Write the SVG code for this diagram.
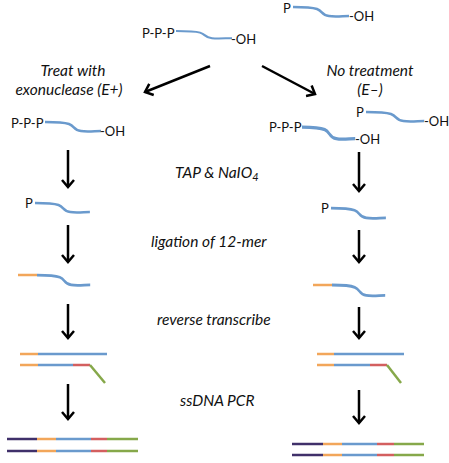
<svg xmlns="http://www.w3.org/2000/svg" xmlns:xlink="http://www.w3.org/1999/xlink" width="449" height="463" viewBox="0 0 449 463">
<style>
.lbl{font-family:Lato,"Liberation Sans",sans-serif;font-style:italic;font-size:15.5px;fill:#111}
.nt{font-family:Lato,"Liberation Sans",sans-serif;font-size:13px;fill:#111}
.bl{fill:none;stroke:#6A9ACD;stroke-width:2.5;stroke-linecap:butt}
.arr{fill:none;stroke:#000;stroke-width:2.5}
.seg{stroke-width:2.5;fill:none}
.or{stroke:#F2A65A}.bu{stroke:#6A9ACD}.rd{stroke:#D35F5F}.gr{stroke:#86A84A}.pu{stroke:#40306A}
</style>
<defs>
<path id="strand" class="bl" d="M0,0 C10,0 18,0 24,2 C30,4 28,8 36,9 C42,10 50,9 56,9"/>
<marker id="ah" markerUnits="userSpaceOnUse" markerWidth="16" markerHeight="16" viewBox="-8 -8 16 16" refX="0" refY="0" orient="auto">
<path d="M-7,-6 L0,0 L-7,6" fill="none" stroke="#000" stroke-width="2.5"/>
</marker>
</defs>

<g id="top-ppp">
<text class="nt" x="142" y="38">P-P-P</text>
<use xlink:href="#strand" transform="translate(176,31) scale(1,0.8)"/>
<text class="nt" x="231" y="44">-OH</text>
</g>
<g id="top-p">
<text class="nt" x="283" y="13">P</text>
<use xlink:href="#strand" transform="translate(293,7)"/>
<text class="nt" x="349" y="21">-OH</text>
</g>

<g id="label-e-plus">
<text class="lbl" x="73" y="76" text-anchor="middle">Treat with</text>
<text class="lbl" x="69" y="95" text-anchor="middle">exonuclease (E+)</text>
</g>
<g id="label-e-minus">
<text class="lbl" x="370" y="76" text-anchor="middle">No treatment</text>
<text class="lbl" x="370" y="95" text-anchor="middle">(E–)</text>
</g>

<g id="left-ppp">
<text class="nt" x="11" y="128">P-P-P</text>
<use xlink:href="#strand" transform="translate(45,122)"/>
<text class="nt" x="100" y="136">-OH</text>
</g>
<g id="right-ppp">
<text class="nt" x="269" y="132">P-P-P</text>
<use xlink:href="#strand" transform="translate(302,127) scale(0.95,1.3)"/>
<text class="nt" x="355" y="144">-OH</text>
</g>
<g id="right-p">
<text class="nt" x="356" y="117">P</text>
<use xlink:href="#strand" transform="translate(366,112) scale(1.04,1)"/>
<text class="nt" x="424" y="126">-OH</text>
</g>

<g id="step-tap"><text class="lbl" x="175" y="178">TAP &amp; NaIO<tspan font-size="11" dy="3">4</tspan></text></g>
<g id="step-lig"><text class="lbl" x="151" y="247">ligation of 12-mer</text></g>
<g id="step-rt"><text class="lbl" x="157" y="325">reverse transcribe</text></g>
<g id="step-pcr"><text class="lbl" x="180" y="406">ssDNA PCR</text></g>

<g id="left-p">
<text class="nt" x="25" y="208">P</text>
<use xlink:href="#strand" transform="translate(35,203) scale(0.98,1)"/>
</g>
<g id="right-p2">
<text class="nt" x="321" y="213">P</text>
<use xlink:href="#strand" transform="translate(331,208) scale(0.98,1.1)"/>
</g>

<g id="left-lig">
<line class="seg or" x1="18" y1="275" x2="37" y2="275"/>
<use xlink:href="#strand" transform="translate(37,275) scale(0.95,1.1)"/>
</g>
<g id="right-lig">
<line class="seg or" x1="313" y1="285" x2="332" y2="285"/>
<use xlink:href="#strand" transform="translate(332,285) scale(0.95,1.15)"/>
</g>

<g id="left-rt">
<line class="seg or" x1="20" y1="354" x2="38" y2="354"/>
<line class="seg bu" x1="38" y1="354" x2="107" y2="354"/>
<line class="seg or" x1="20" y1="365" x2="38" y2="365"/>
<line class="seg bu" x1="38" y1="365" x2="73" y2="365"/>
<line class="seg rd" x1="73" y1="365" x2="90" y2="365"/>
<line class="seg gr" x1="90" y1="365" x2="105" y2="383"/>
</g>
<g id="right-rt">
<line class="seg or" x1="317" y1="354" x2="334" y2="354"/>
<line class="seg bu" x1="334" y1="354" x2="404" y2="354"/>
<line class="seg or" x1="317" y1="365" x2="334" y2="365"/>
<line class="seg bu" x1="334" y1="365" x2="370" y2="365"/>
<line class="seg rd" x1="370" y1="365" x2="387" y2="365"/>
<line class="seg gr" x1="387" y1="365" x2="401" y2="383"/>
</g>

<g id="left-pcr">
<line class="seg pu" x1="7" y1="439" x2="37" y2="439"/>
<line class="seg or" x1="37" y1="439" x2="56" y2="439"/>
<line class="seg bu" x1="56" y1="439" x2="91" y2="439"/>
<line class="seg rd" x1="91" y1="439" x2="107" y2="439"/>
<line class="seg gr" x1="107" y1="439" x2="138" y2="439"/>
<line class="seg pu" x1="7" y1="451" x2="37" y2="451"/>
<line class="seg or" x1="37" y1="451" x2="56" y2="451"/>
<line class="seg bu" x1="56" y1="451" x2="91" y2="451"/>
<line class="seg rd" x1="91" y1="451" x2="107" y2="451"/>
<line class="seg gr" x1="107" y1="451" x2="138" y2="451"/>
</g>
<g id="right-pcr">
<line class="seg pu" x1="292" y1="444" x2="323" y2="444"/>
<line class="seg or" x1="323" y1="444" x2="342" y2="444"/>
<line class="seg bu" x1="342" y1="444" x2="377" y2="444"/>
<line class="seg rd" x1="377" y1="444" x2="394" y2="444"/>
<line class="seg gr" x1="394" y1="444" x2="424" y2="444"/>
<line class="seg pu" x1="292" y1="455" x2="323" y2="455"/>
<line class="seg or" x1="323" y1="455" x2="342" y2="455"/>
<line class="seg bu" x1="342" y1="455" x2="377" y2="455"/>
<line class="seg rd" x1="377" y1="455" x2="394" y2="455"/>
<line class="seg gr" x1="394" y1="455" x2="424" y2="455"/>
</g>

<g id="connectors">
<line class="arr" x1="210" y1="66" x2="145" y2="92" marker-end="url(#ah)"/>
<line class="arr" x1="262" y1="66" x2="315" y2="94" marker-end="url(#ah)"/>
<line class="arr" x1="68" y1="150" x2="68" y2="187" marker-end="url(#ah)"/>
<line class="arr" x1="68" y1="225" x2="68" y2="262" marker-end="url(#ah)"/>
<line class="arr" x1="68" y1="304" x2="68" y2="338" marker-end="url(#ah)"/>
<line class="arr" x1="68" y1="384" x2="68" y2="419" marker-end="url(#ah)"/>
<line class="arr" x1="359" y1="152" x2="359" y2="191" marker-end="url(#ah)"/>
<line class="arr" x1="359" y1="230" x2="359" y2="262" marker-end="url(#ah)"/>
<line class="arr" x1="359" y1="307" x2="359" y2="338" marker-end="url(#ah)"/>
<line class="arr" x1="359" y1="390" x2="359" y2="423" marker-end="url(#ah)"/>
</g>
</svg>
